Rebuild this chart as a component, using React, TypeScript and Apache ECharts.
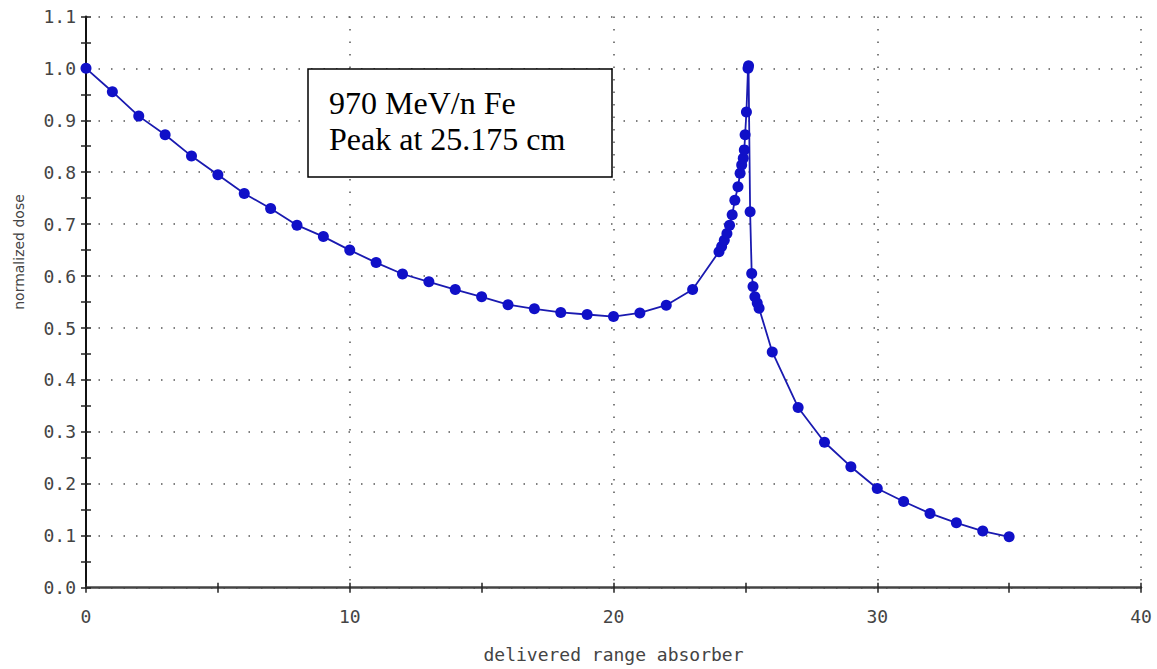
import React, { useEffect, useRef } from "react";
import * as echarts from "echarts";

const depthCm = [
  0, 1, 2, 3, 4, 5, 6, 7, 8, 9, 10, 11, 12, 13, 14, 15, 16, 17, 18, 19, 20,
  21, 22, 23, 24, 24.1, 24.2, 24.3, 24.4, 24.5, 24.6, 24.72, 24.8, 24.86, 24.92,
  24.96, 24.99, 25.04, 25.1, 25.12, 25.18, 25.24, 25.29, 25.36, 25.45, 25.52,
  26.02, 27, 28, 29, 30, 31, 32, 33, 34, 35,
];
const normalizedDose = [
  1.0, 0.955, 0.908, 0.872, 0.831, 0.795, 0.759, 0.73, 0.698, 0.676, 0.65,
  0.626, 0.604, 0.589, 0.574, 0.56, 0.545, 0.537, 0.53, 0.526, 0.522, 0.529,
  0.544, 0.574, 0.647, 0.657, 0.669, 0.682, 0.698, 0.718, 0.746, 0.772, 0.798,
  0.814, 0.827, 0.843, 0.872, 0.916, 1.0, 1.005, 0.724, 0.605, 0.58, 0.56,
  0.548, 0.538, 0.454, 0.347, 0.28, 0.233, 0.191, 0.166, 0.143, 0.125, 0.109,
  0.098,
];
const annotationLines = ["970 MeV/n Fe", "Peak at 25.175 cm"];
const xTitle = "delivered range absorber";
const yTitle = "normalized dose";

export default function App() {
  const ref = useRef<HTMLDivElement>(null);
  useEffect(() => {
    document.body.style.margin = "0";
    const chart = echarts.init(ref.current!, null, { renderer: "svg" });
    const data = depthCm.map((x, i) => [x, normalizedDose[i]]);
    const mono = "DejaVu Sans Mono";
    const gridDots = { type: [1.5, 11] as any, color: "#555", width: 1.5 };
    const tickStyle = { color: "#222", width: 1.5 };
    const baseX = {
      type: "value" as const,
      min: 0,
      max: 40,
      interval: 10,
      gridIndex: 0,
      position: "bottom" as const,
    };
    const baseY = {
      type: "value" as const,
      min: 0,
      max: 1.1,
      interval: 0.1,
      gridIndex: 0,
      position: "left" as const,
    };
    chart.setOption({
      animation: false,
      backgroundColor: "#fff",
      grid: { left: 86, right: 16, top: 16.4, bottom: 81.3, containLabel: false },
      xAxis: [
        {
          ...baseX,
          name: xTitle,
          nameLocation: "middle",
          nameGap: 58,
          nameTextStyle: { fontFamily: mono, fontSize: 18, color: "#444" },
          axisLine: { show: true, lineStyle: { color: "#444", width: 2.5 } },
          axisTick: { show: true, length: 5, lineStyle: tickStyle },
          minorTick: { show: true, splitNumber: 2, length: 5, lineStyle: tickStyle },
          axisLabel: {
            margin: 20,
            fontFamily: mono,
            fontSize: 18,
            color: "#444",
          },
          splitLine: { show: true, lineStyle: gridDots },
        },
        {
          ...baseX,
          axisLine: { show: false },
          axisLabel: { show: false },
          splitLine: { show: false },
          axisTick: { show: true, inside: true, length: 5, lineStyle: tickStyle },
          minorTick: { show: true, splitNumber: 2, length: 5, lineStyle: tickStyle },
        },
      ],
      yAxis: [
        {
          ...baseY,
          axisLine: { show: true, lineStyle: { color: "#111", width: 2 } },
          axisTick: { show: true, length: 5, lineStyle: tickStyle },
          minorTick: { show: true, splitNumber: 2, length: 5, lineStyle: tickStyle },
          axisLabel: {
            margin: 10,
            fontFamily: mono,
            fontSize: 18,
            color: "#444",
            formatter: (v: number) => v.toFixed(1),
          },
          splitLine: { show: true, lineStyle: gridDots },
        },
        {
          ...baseY,
          axisLine: { show: false },
          axisLabel: { show: false },
          splitLine: { show: false },
          axisTick: { show: true, inside: true, length: 5, lineStyle: tickStyle },
          minorTick: { show: true, splitNumber: 2, length: 5, lineStyle: tickStyle },
        },
      ],
      series: [
        {
          type: "line",
          xAxisIndex: 0,
          yAxisIndex: 0,
          data,
          symbol: "circle",
          symbolSize: 11,
          showAllSymbol: true,
          itemStyle: { color: "#1010c8" },
          lineStyle: { color: "#1a1ab0", width: 1.8 },
          z: 5,
        },
      ],
      graphic: [
        {
          type: "text",
          x: 19,
          y: 252,
          rotation: Math.PI / 2,
          style: {
            text: yTitle,
            fontFamily: "DejaVu Sans",
            fontSize: 14,
            fill: "#444",
            textAlign: "center",
            textVerticalAlign: "middle",
          } as any,
        },
        {
          type: "rect",
          shape: { x: 308, y: 69, width: 304, height: 108 },
          style: { fill: "#fff", stroke: "#000", lineWidth: 1.5 },
          z: 10,
        },
        {
          type: "text",
          x: 329,
          y: 103,
          z: 11,
          style: {
            text: annotationLines[0],
            fontFamily: "Liberation Serif",
            fontSize: 32,
            fill: "#000",
            textVerticalAlign: "middle",
          } as any,
        },
        {
          type: "text",
          x: 329,
          y: 139,
          z: 11,
          style: {
            text: annotationLines[1],
            fontFamily: "Liberation Serif",
            fontSize: 32,
            fill: "#000",
            textVerticalAlign: "middle",
          } as any,
        },
      ],
    });
    return () => chart.dispose();
  }, []);
  return (
    <div
      ref={ref}
      style={{ position: "fixed", left: 0, top: 0, width: 1157, height: 669 }}
    />
  );
}
